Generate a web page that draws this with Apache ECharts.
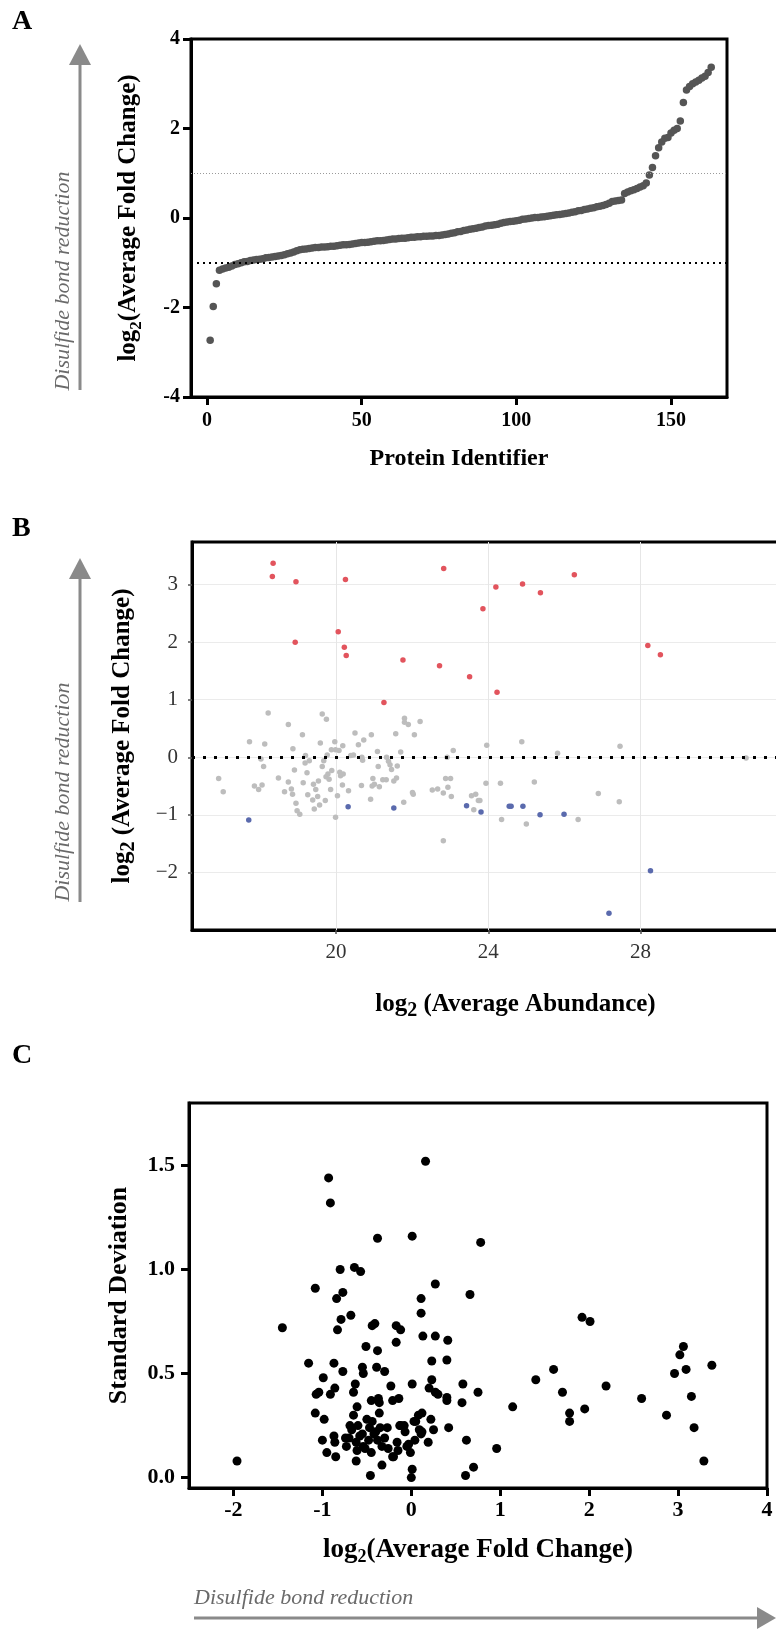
<!DOCTYPE html>
<html>
<head>
<meta charset="utf-8">
<script src="https://cdn.jsdelivr.net/npm/echarts@6/dist/echarts.min.js"></script>
<style>html,body{margin:0;padding:0;background:#fff}#c{width:776px;height:1633px}</style>
</head>
<body>
<div id="c"></div>
<script>
// ---------- Panel A: ranked log2 fold change per protein ----------
const proteinFoldChange = [
-2.73,-1.98,-1.47,-1.17,-1.14,-1.12,-1.10,-1.07,-1.04,-1.02,
-1.00,-0.98,-0.97,-0.95,-0.94,-0.93,-0.92,-0.91,-0.89,-0.88,
-0.87,-0.86,-0.85,-0.84,-0.82,-0.80,-0.78,-0.76,-0.73,-0.71,
-0.70,-0.69,-0.68,-0.67,-0.66,-0.66,-0.65,-0.65,-0.64,-0.63,
-0.63,-0.62,-0.61,-0.60,-0.60,-0.59,-0.58,-0.57,-0.56,-0.55,
-0.55,-0.54,-0.53,-0.52,-0.51,-0.51,-0.50,-0.49,-0.48,-0.47,
-0.47,-0.46,-0.45,-0.45,-0.44,-0.43,-0.43,-0.42,-0.42,-0.41,
-0.41,-0.40,-0.40,-0.39,-0.39,-0.38,-0.37,-0.36,-0.34,-0.33,
-0.31,-0.30,-0.28,-0.27,-0.25,-0.24,-0.23,-0.21,-0.20,-0.18,
-0.17,-0.16,-0.15,-0.14,-0.12,-0.10,-0.09,-0.08,-0.07,-0.06,
-0.05,-0.03,-0.02,-0.01,0.00,0.01,0.01,0.02,0.03,0.04,
0.05,0.06,0.07,0.08,0.09,0.10,0.11,0.13,0.14,0.16,
0.17,0.19,0.20,0.22,0.23,0.25,0.26,0.28,0.30,0.33,
0.37,0.38,0.39,0.40,0.55,0.58,0.61,0.63,0.66,0.69,
0.72,0.78,0.96,1.13,1.39,1.57,1.70,1.78,1.80,1.90,
1.96,2.00,2.17,2.58,2.86,2.94,3.00,3.04,3.08,3.13,
3.17,3.25,3.37];
const proteinTicks = [0, 50, 100, 150];
const foldTicksA = [-4, -2, 0, 2, 4];
const thresholdsA = [1, -1];

// ---------- Panel B: MA plot [log2 abundance, log2 fold change] ----------
const bUp = [[18.35,3.37],[18.33,3.14],[18.95,3.05],[20.25,3.09],[22.83,3.28],[18.93,2.00],[20.06,2.18],[20.22,1.91],[20.27,1.77],[21.76,1.69],
[22.72,1.59],[23.51,1.40],[21.26,0.95],[23.86,2.58],[24.20,2.96],[24.90,3.01],[25.37,2.86],[26.26,3.17],[28.19,1.94],[28.52,1.78],[24.23,1.13]];
const bDown = [[17.71,-1.09],[20.32,-0.86],[21.52,-0.88],[23.43,-0.84],[23.81,-0.95],[24.55,-0.85],[24.60,-0.85],[24.91,-0.85],[25.36,-1.00],[25.99,-0.99],
[28.26,-1.97],[27.17,-2.71]];
const bOther = [
[16.92,-0.37],[17.04,-0.60],[17.73,0.27],[17.86,-0.50],[17.97,-0.56],[18.06,-0.48],[18.03,-0.03],[18.10,-0.16],[18.13,0.23],[18.22,0.77],
[18.49,-0.36],[18.75,0.57],[18.75,-0.43],[18.65,-0.60],[18.83,-0.55],[18.86,-0.64],[18.87,0.15],[18.91,-0.22],[18.95,-0.80],[18.98,-0.93],
[19.05,-0.99],[19.12,0.39],[19.14,-0.44],[19.20,0.03],[19.19,-0.10],[19.24,-0.27],[19.26,-0.65],[19.30,-0.06],[19.39,-0.74],[19.41,-0.47],
[19.43,-0.90],[19.47,-0.56],[19.52,-0.68],[19.54,-0.41],[19.57,-0.83],[19.59,0.25],[19.64,-0.16],[19.64,0.75],[19.68,-0.06],[19.72,-0.75],
[19.74,-0.34],[19.75,0.66],[19.77,0.04],[19.79,-0.29],[19.82,-0.38],[19.86,-0.56],[19.88,0.13],[19.89,-0.23],[19.97,0.27],[19.99,0.13],
[19.99,-1.04],[20.04,-0.67],[20.08,0.12],[20.10,-0.26],[20.12,-0.32],[20.17,-0.48],[20.18,0.20],[20.19,-0.29],[20.33,-0.58],[20.39,0.03],
[20.46,0.04],[20.50,0.42],[20.59,0.22],[20.67,-0.49],[20.68,0.00],[20.70,-0.05],[20.73,0.30],[20.91,-0.73],[20.93,0.39],[20.95,-0.50],
[20.97,-0.37],[21.01,-0.47],[21.09,0.10],[21.11,-0.16],[21.14,-0.51],[21.23,-0.39],[21.33,0.00],[21.32,-0.39],[21.38,-0.07],[21.42,-0.13],
[21.46,-0.21],[21.52,-0.41],[21.57,0.41],[21.59,-0.36],[21.61,-0.15],[21.70,0.09],[21.78,-0.78],[21.80,0.68],[21.80,0.61],[21.90,0.57],
[22.01,-0.61],[22.03,-0.64],[22.06,0.39],[22.21,0.62],[22.53,-0.57],[22.67,-0.55],[22.82,-0.62],[22.88,-0.37],[23.01,-0.37],[22.94,-0.52],
[23.03,-0.68],[23.08,0.12],[22.92,0.00],[22.82,-1.45],[23.56,-0.67],[23.67,-0.64],[23.62,-0.91],[23.74,-0.75],
[23.96,0.21],[23.94,-0.45],[24.32,-0.45],[24.35,-1.08],[23.78,-0.75],[24.88,0.27],[25.00,-1.16],[25.21,-0.43],[25.82,0.07],[26.36,-1.08],
[26.89,-0.63],[27.44,-0.77],[27.46,0.19],[30.77,-0.01]];
const abundanceTicks = [20, 24, 28];
const foldTicksB = [-2, -1, 0, 1, 2, 3];

// ---------- Panel C: [log2 fold change, standard deviation] ----------
const sdPoints = [
[-1.96,0.08],[-1.45,0.72],[-1.155,0.55],[-1.08,0.91],[-1.08,0.31],[-1.07,0.40],[-1.04,0.41],[-0.99,0.48],[-0.98,0.28],[-1.00,0.18],
[-0.95,0.12],[-0.93,1.44],[-0.91,1.32],[-0.91,0.40],[-0.87,0.55],[-0.86,0.43],[-0.87,0.20],[-0.86,0.17],[-0.85,0.10],[-0.83,0.71],
[-0.84,0.86],[-0.80,1.00],[-0.79,0.76],[-0.77,0.89],[-0.77,0.51],[-0.74,0.19],[-0.73,0.15],[-0.68,0.78],[-0.69,0.25],[-0.67,0.23],
[-0.65,0.30],[-0.64,1.01],[-0.63,0.45],[-0.65,0.41],[-0.61,0.34],[-0.62,0.08],[-0.61,0.13],[-0.60,0.25],[-0.57,0.99],[-0.55,0.53],
[-0.54,0.50],[-0.55,0.21],[-0.54,0.15],[-0.51,0.63],[-0.50,0.28],[-0.48,0.18],[-0.47,0.24],[-0.46,0.01],[-0.45,0.37],[-0.44,0.73],
[-0.41,0.74],[-0.42,0.21],[-0.39,0.53],[-0.38,1.15],[-0.38,0.61],[-0.37,0.38],[-0.36,0.36],[-0.36,0.31],[-0.35,0.24],[-0.33,0.15],
[-0.33,0.06],[-0.30,0.51],[-0.27,0.24],[-0.23,0.44],[-0.21,0.37],[-0.20,0.10],[-0.17,0.65],[-0.17,0.73],[-0.14,0.38],[-0.16,0.17],
[-0.15,0.13],[-0.12,0.71],[-0.12,0.25],[-0.07,0.22],[-0.05,0.15],[-0.01,0.12],[0.01,1.16],[0.01,0.45],[0.01,0.04],[0.00,0.00],
[0.03,0.27],[0.04,0.18],[0.08,0.30],[0.11,0.86],[0.11,0.79],[0.13,0.68],[0.12,0.22],[0.16,1.52],[0.19,0.17],[0.78,1.13],
[0.27,0.93],[0.66,0.88],[0.27,0.68],[0.41,0.66],[0.40,0.565],[0.23,0.56],[0.23,0.47],[0.58,0.45],[0.20,0.43],[0.27,0.41],
[0.30,0.40],[0.75,0.41],[0.40,0.385],[0.40,0.37],[0.57,0.36],[1.14,0.34],[1.40,0.47],[1.60,0.52],[1.70,0.41],[1.78,0.31],
[1.78,0.27],[1.92,0.77],[2.01,0.75],[1.95,0.33],[2.19,0.44],[2.59,0.38],[2.87,0.30],[2.96,0.50],[3.02,0.59],[3.06,0.63],
[3.09,0.52],[3.15,0.39],[3.18,0.24],[3.29,0.08],[3.38,0.54],[0.42,0.24],[0.22,0.28],[0.25,0.23],[0.62,0.18],[0.61,0.01],
[0.70,0.05],[0.96,0.14],[0.12,0.31],[0.09,0.23],[0.11,0.21],[-0.58,0.20],[-0.52,0.14],[-0.44,0.27],[-0.40,0.22],[-0.30,0.19],
[-0.26,0.14],[-0.38,0.18],[-0.62,0.17],[-0.70,0.19],[-0.08,0.25],[-0.13,0.25],[-0.21,0.10],[-0.03,0.16],[-0.45,0.12],[0.05,0.27]];
const foldTicksC = [-2, -1, 0, 1, 2, 3, 4];
const sdTicks = [0, 0.5, 1.0, 1.5];

// ---------- rendering ----------
const SERIF = '"Liberation Serif","Times New Roman",serif';
const chart = echarts.init(document.getElementById('c'), null, {renderer: 'canvas'});

function nameStyle(size, sub, lh) {
  return {fontFamily: SERIF, fontSize: size, fontWeight: 'bold', color: '#000', lineHeight: lh,
    rich: {s: {fontFamily: SERIF, fontSize: sub, fontWeight: 'bold', color: '#000', verticalAlign: 'bottom', lineHeight: Math.round(sub * 0.8)}}};
}
const boldLbl = (size) => ({fontFamily: SERIF, fontSize: size, fontWeight: 'bold', color: '#000'});
const thickLine = {show: true, onZero: false, lineStyle: {color: '#000', width: 3}};
const thickTick = (vals) => ({show: true, customValues: vals, length: 8, lineStyle: {color: '#000', width: 3}});
const minus = (v) => (v < 0 ? '\u2212' + Math.abs(v) : String(v));
const arrowGray = '#8a8a8a';
const noteFont = 'italic normal 22px "Liberation Serif", "DejaVu Serif", serif';
const noteStyle = {text: 'Disulfide bond reduction', font: noteFont, fill: '#6a6a6a', align: 'center', verticalAlign: 'middle'};

const option = {
  animation: false,
  backgroundColor: '#fff',
  textStyle: {fontFamily: SERIF},
  grid: [
    {left: 191, top: 39, width: 536, height: 358, show: true, borderColor: '#000', borderWidth: 3, outerBoundsMode: 'none', containLabel: false},
    {left: 192, top: 542, width: 591, height: 388, show: true, borderColor: '#000', borderWidth: 3, outerBoundsMode: 'none', containLabel: false},
    {left: 189, top: 1103, width: 578, height: 385, show: true, borderColor: '#000', borderWidth: 3, outerBoundsMode: 'none', containLabel: false}
  ],
  xAxis: [
    {gridIndex: 0, type: 'value', min: -5.2, max: 168.1,
     axisLine: thickLine, axisTick: thickTick(proteinTicks),
     axisLabel: Object.assign({customValues: proteinTicks, margin: 14}, boldLbl(20)),
     splitLine: {show: false},
     name: 'Protein Identifier', nameLocation: 'middle', nameGap: 50,
     nameTextStyle: {fontFamily: SERIF, fontSize: 24, fontWeight: 'bold', color: '#000'}},
    {gridIndex: 1, type: 'value', min: 16.22, max: 31.74,
     axisLine: thickLine,
     axisTick: {show: true, customValues: abundanceTicks, length: 4, lineStyle: {color: '#555', width: 1.5}},
     axisLabel: {customValues: abundanceTicks, margin: 12, fontFamily: SERIF, fontSize: 21, color: '#333'},
     splitLine: {show: false},
     name: 'log{s|2} (Average Abundance)', nameLocation: 'middle', nameGap: 59,
     nameTextStyle: Object.assign(nameStyle(25, 20, 32), {padding: [0, 0, 0, 56]})},
    {gridIndex: 2, type: 'value', min: -2.5, max: 4,
     axisLine: thickLine, axisTick: thickTick(foldTicksC),
     axisLabel: Object.assign({customValues: foldTicksC, margin: 11}, boldLbl(22)),
     splitLine: {show: false},
     name: 'log{s|2}(Average Fold Change)', nameLocation: 'middle', nameGap: 46,
     nameTextStyle: nameStyle(27, 18, 32)}
  ],
  yAxis: [
    {gridIndex: 0, type: 'value', min: -4, max: 4, interval: 2,
     axisLine: thickLine, axisTick: thickTick(foldTicksA),
     axisLabel: Object.assign({customValues: foldTicksA, margin: 11}, boldLbl(20)),
     splitLine: {show: false},
     name: 'log{s|2}(Average Fold Change)', nameLocation: 'middle', nameGap: 46, nameRotate: 90,
     nameTextStyle: nameStyle(25, 17, 32)},
    {gridIndex: 1, type: 'value', min: -3, max: 3.74, interval: 1,
     axisLine: thickLine,
     axisTick: {show: true, customValues: foldTicksB, length: 4, lineStyle: {color: '#555', width: 1.5}},
     axisLabel: {customValues: foldTicksB, margin: 14, fontFamily: SERIF, fontSize: 21, color: '#333', formatter: minus},
     splitLine: {show: true, lineStyle: {color: '#ebebeb', width: 1}},
     name: 'log{s|2} (Average Fold Change)', nameLocation: 'middle', nameGap: 53, nameRotate: 90,
     nameTextStyle: nameStyle(25, 20, 32)},
    {gridIndex: 2, type: 'value', min: -0.05, max: 1.8,
     axisLine: thickLine, axisTick: thickTick(sdTicks),
     axisLabel: Object.assign({customValues: sdTicks, margin: 14, formatter: (v) => v.toFixed(1)}, boldLbl(22)),
     splitLine: {show: false},
     name: 'Standard Deviation', nameLocation: 'middle', nameGap: 57, nameRotate: 90,
     nameTextStyle: {fontFamily: SERIF, fontSize: 26, fontWeight: 'bold', color: '#000'}}
  ],
  series: [
    {type: 'scatter', xAxisIndex: 0, yAxisIndex: 0, symbolSize: 7.5, itemStyle: {color: '#555', opacity: 1},
     data: proteinFoldChange.map((v, i) => [i + 1, v]),
     markLine: {silent: true, symbol: 'none', label: {show: false},
       data: [
         {yAxis: thresholdsA[0], lineStyle: {color: '#9a9a9a', width: 1, type: [1, 2]}},
         {yAxis: thresholdsA[1], lineStyle: {color: '#000', width: 2, type: [2, 4]}}
       ]}},
    {type: 'scatter', xAxisIndex: 1, yAxisIndex: 1, symbolSize: 5.5, z: 2, itemStyle: {color: '#bdbdbd', opacity: 1},
     data: bOther,
     markLine: {silent: true, symbol: 'none', z: 1, label: {show: false},
       lineStyle: {color: '#e6e6e6', width: 1, type: 'solid'},
       data: abundanceTicks.map((v) => ({xAxis: v}))}},
    {type: 'scatter', xAxisIndex: 1, yAxisIndex: 1, symbolSize: 5.5, z: 3, itemStyle: {color: '#5a6aad', opacity: 1},
     data: bDown},
    {type: 'scatter', xAxisIndex: 1, yAxisIndex: 1, symbolSize: 5.5, z: 3, itemStyle: {color: '#e2545d', opacity: 1},
     data: bUp,
     markLine: {silent: true, symbol: 'none', z: 6, label: {show: false},
       lineStyle: {color: '#000', width: 3, type: [3, 8]},
       data: [{yAxis: 0}]}},
    {type: 'scatter', xAxisIndex: 2, yAxisIndex: 2, symbolSize: 9, itemStyle: {color: '#000', opacity: 1},
     data: sdPoints}
  ],
  graphic: [
    {type: 'text', x: 12, y: 22, style: {text: 'A', fontFamily: SERIF, fontSize: 28, fontWeight: 'bold', fill: '#000', verticalAlign: 'middle'}},
    {type: 'text', x: 12, y: 529, style: {text: 'B', fontFamily: SERIF, fontSize: 28, fontWeight: 'bold', fill: '#000', verticalAlign: 'middle'}},
    {type: 'text', x: 12, y: 1056, style: {text: 'C', fontFamily: SERIF, fontSize: 28, fontWeight: 'bold', fill: '#000', verticalAlign: 'middle'}},
    {type: 'line', shape: {x1: 80, y1: 390, x2: 80, y2: 62}, style: {stroke: arrowGray, lineWidth: 3}},
    {type: 'polygon', shape: {points: [[69, 65], [91, 65], [80, 44]]}, style: {fill: arrowGray}},
    {type: 'text', x: 63, y: 281, rotation: Math.PI / 2, style: Object.assign({}, noteStyle)},
    {type: 'line', shape: {x1: 80, y1: 902, x2: 80, y2: 576}, style: {stroke: arrowGray, lineWidth: 3}},
    {type: 'polygon', shape: {points: [[69, 579], [91, 579], [80, 558]]}, style: {fill: arrowGray}},
    {type: 'text', x: 63, y: 792, rotation: Math.PI / 2, style: Object.assign({}, noteStyle)},
    {type: 'text', x: 194, y: 1598, style: Object.assign({}, noteStyle, {align: 'left'})},
    {type: 'line', shape: {x1: 194, y1: 1618, x2: 760, y2: 1618}, style: {stroke: arrowGray, lineWidth: 3}},
    {type: 'polygon', shape: {points: [[757, 1607], [757, 1629], [776, 1618]]}, style: {fill: arrowGray}}
  ]
};
chart.setOption(option);
</script>
</body>
</html>
